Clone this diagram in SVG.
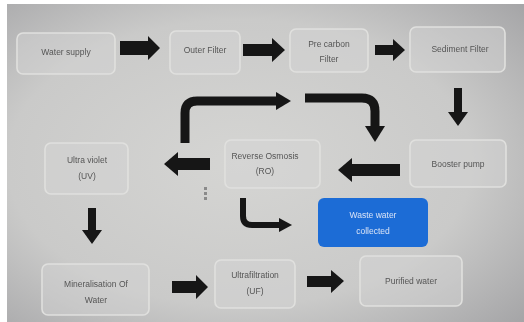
<svg xmlns="http://www.w3.org/2000/svg" width="524" height="322" viewBox="0 0 524 322">
<defs>
<radialGradient id="bg" cx="0.45" cy="0.5" r="0.75">
<stop offset="0" stop-color="#d5d5d3"/>
<stop offset="0.6" stop-color="#cacac9"/>
<stop offset="1" stop-color="#a4a4a6"/>
</radialGradient>
<filter id="blur" x="-5%" y="-5%" width="110%" height="110%"><feGaussianBlur stdDeviation="0.6"/></filter>
<style>
.box{fill:#d5d5d4;fill-opacity:0.45;stroke:#e0e0de;stroke-width:1.6}
.t{font-family:"Liberation Sans",Arial,sans-serif;font-size:8.5px;fill:#555555;text-anchor:middle}
.tw{font-family:"Liberation Sans",Arial,sans-serif;font-size:8.5px;fill:#d8e4f6;text-anchor:middle}
.ar{fill:#151515}
.cv{fill:none;stroke:#151515;stroke-linecap:butt}
</style>
</defs>
<rect x="0" y="0" width="524" height="322" fill="#ffffff"/>
<rect x="7" y="4" width="517" height="318" fill="url(#bg)"/>
<g filter="url(#blur)">
<g id="water-supply"><rect class="box" x="17" y="33" width="98" height="41" rx="6"/><text class="t" x="66" y="55">Water supply</text></g>
<g id="outer-filter"><rect class="box" x="170" y="31" width="70" height="43" rx="6"/><text class="t" x="205" y="53">Outer Filter</text></g>
<g id="pre-carbon-filter"><rect class="box" x="290" y="29" width="78" height="43" rx="6"/><text class="t" x="329" y="47">Pre carbon</text><text class="t" x="329" y="62">Filter</text></g>
<g id="sediment-filter"><rect class="box" x="410" y="27" width="95" height="45" rx="6"/><text class="t" x="460" y="52">Sediment Filter</text></g>
<g id="booster-pump"><rect class="box" x="410" y="140" width="96" height="47" rx="6"/><text class="t" x="458" y="167">Booster pump</text></g>
<g id="reverse-osmosis"><rect class="box" x="225" y="140" width="95" height="48" rx="6"/><text class="t" x="265" y="159">Reverse Osmosis</text><text class="t" x="265" y="174">(RO)</text></g>
<g id="ultra-violet"><rect class="box" x="45" y="143" width="83" height="51" rx="6"/><text class="t" x="87" y="163">Ultra violet</text><text class="t" x="87" y="179">(UV)</text></g>
<g id="mineralisation"><rect class="box" x="42" y="264" width="107" height="51" rx="6"/><text class="t" x="96" y="287">Mineralisation Of</text><text class="t" x="96" y="303">Water</text></g>
<g id="ultrafiltration"><rect class="box" x="215" y="260" width="80" height="48" rx="6"/><text class="t" x="255" y="278">Ultrafiltration</text><text class="t" x="255" y="294">(UF)</text></g>
<g id="purified-water"><rect class="box" x="360" y="256" width="102" height="50" rx="6"/><text class="t" x="411" y="284">Purified water</text></g>
<g id="waste-water"><rect x="318" y="198" width="110" height="49" rx="6" fill="#1f6cd6"/><text class="tw" x="373" y="218">Waste water</text><text class="tw" x="373" y="234">collected</text></g>
<g id="connectors">
<polygon class="ar" points="120,41 148,41 148,36 160,48 148,60 148,55 120,55"/>
<polygon class="ar" points="243,44 272,44 272,38 285,50 272,62 272,56 243,56"/>
<polygon class="ar" points="375,45 393,45 393,39 405,50 393,61 393,55 375,55"/>
<polygon class="ar" points="454,88 462,88 462,112 468,112 458,126 448,112 454,112"/>
<polygon class="ar" points="400,164 352,164 352,158 338,170 352,182 352,176 400,176"/>
<polygon class="ar" points="210,158 178,158 178,152 164,164 178,176 178,170 210,170"/>
<polygon class="ar" points="88,208 96,208 96,230 102,230 92,244 82,230 88,230"/>
<polygon class="ar" points="172,281 196,281 196,275 208,287 196,299 196,293 172,293"/>
<polygon class="ar" points="307,276 331,276 331,270 344,281 331,293 331,287 307,287"/>
<path class="cv" stroke-width="9" d="M185,143 V113 Q185,101 197,101 H278"/>
<polygon class="ar" points="276,92 291,101 276,110"/>
<path class="cv" stroke-width="9" d="M305,98 H362 Q375,98 375,111 V128"/>
<polygon class="ar" points="365,126 385,126 375,142"/>
<path class="cv" stroke-width="6" d="M243,198 V216 Q243,225 252,225 H281"/>
<polygon class="ar" points="279,218 292,225 279,232"/>
</g>
<g id="mark" fill="#8a8a8a"><rect x="204" y="187" width="3" height="3"/><rect x="204" y="192" width="3" height="3"/><rect x="204" y="197" width="3" height="3"/></g>
</g>
</svg>
